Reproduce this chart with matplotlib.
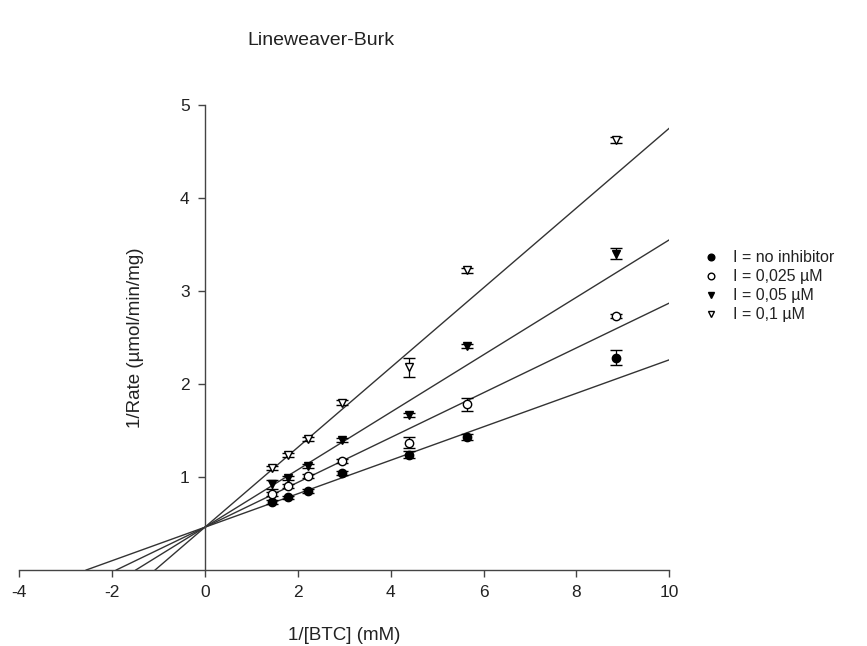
import numpy as np
import matplotlib
matplotlib.use("Agg")
import matplotlib.pyplot as plt

plt.rcParams["font.family"] = ["Liberation Sans", "DejaVu Sans"]
plt.rcParams["axes.unicode_minus"] = False

# ── Data ───────────────────────────────────────────────────────
inv_s = [1.44, 1.79, 2.22, 2.95, 4.40, 5.65, 8.86]

rate_none  = [0.73, 0.78, 0.85, 1.04, 1.24, 1.43, 2.28]
err_none   = [0.02, 0.02, 0.02, 0.02, 0.04, 0.03, 0.08]
rate_025   = [0.82, 0.90, 1.01, 1.17, 1.37, 1.78, 2.73]
err_025    = [0.02, 0.02, 0.02, 0.02, 0.06, 0.07, 0.02]
rate_05    = [0.92, 0.99, 1.12, 1.40, 1.67, 2.41, 3.40]
err_05     = [0.05, 0.02, 0.02, 0.02, 0.02, 0.02, 0.06]
rate_01    = [1.10, 1.24, 1.41, 1.80, 2.18, 3.22, 4.62]
err_01     = [0.02, 0.02, 0.02, 0.03, 0.10, 0.03, 0.03]

labels = ["I = no inhibitor", "I = 0,025 µM", "I = 0,05 µM", "I = 0,1 µM"]

# fitted lines (common y-intercept, competitive inhibition)
fit_intercept = 0.46
fit_slopes = [0.180, 0.241, 0.309, 0.429]

series = [
    (rate_none, err_none, "o", "black"),
    (rate_025,  err_025,  "o", "white"),
    (rate_05,   err_05,   "v", "black"),
    (rate_01,   err_01,   "v", "white"),
]

fig = plt.figure(figsize=(8.67, 6.46), dpi=100, facecolor="white")
ax = fig.add_axes([0.022, 0.1176, 0.75, 0.72])

# regression lines from x-intercept to x=10
for slope in fit_slopes:
    x0 = -fit_intercept / slope
    xs = np.array([x0, 10.0])
    ax.plot(xs, fit_intercept + slope * xs, color="#333333", lw=1.0, zorder=2)

for (ys, es, mk, fc), lbl in zip(series, labels):
    ax.errorbar(inv_s, ys, yerr=es, fmt=mk, color="black", mfc=fc, mec="black",
                ms=6, mew=1.0, ecolor="black", elinewidth=0.9, capsize=4,
                capthick=0.9, label=lbl, zorder=3)

ax.set_xlim(-4, 10)
ax.set_ylim(0, 5)
ax.spines["left"].set_position(("data", 0))
ax.spines["bottom"].set_position(("data", 0))
ax.spines["top"].set_visible(False)
ax.spines["right"].set_visible(False)
for sp in ("left", "bottom"):
    ax.spines[sp].set_color("#444444")
    ax.spines[sp].set_linewidth(1.0)

ax.set_xticks([-4, -2, 0, 2, 4, 6, 8, 10])
ax.set_yticks([1, 2, 3, 4, 5])
ax.tick_params(direction="out", length=5, width=1.0, color="#444444",
               labelsize=12.5, labelcolor="#222222", pad=6)

ax.text(-1.5, 2.5, "1/Rate (µmol/min/mg)", rotation=90, ha="center",
        va="center", fontsize=13.5, color="#222222")
fig.text(0.397, 0.016, "1/[BTC] (mM)", ha="center", va="center",
         fontsize=13.5, color="#222222")
fig.text(0.37, 0.938, "Lineweaver-Burk", ha="center", va="center",
         fontsize=14, color="#222222")

handles, lbls = ax.get_legend_handles_labels()
handles = [h[0] for h in handles]
leg = fig.legend(handles, lbls, loc="upper left", bbox_to_anchor=(0.79, 0.635),
                 frameon=False, fontsize=11.5, handletextpad=0.6,
                 labelspacing=0.25, markerscale=0.8, handlelength=1.5)
for t in leg.get_texts():
    t.set_color("#222222")

fig.savefig("out.png", dpi=100, facecolor="white")
